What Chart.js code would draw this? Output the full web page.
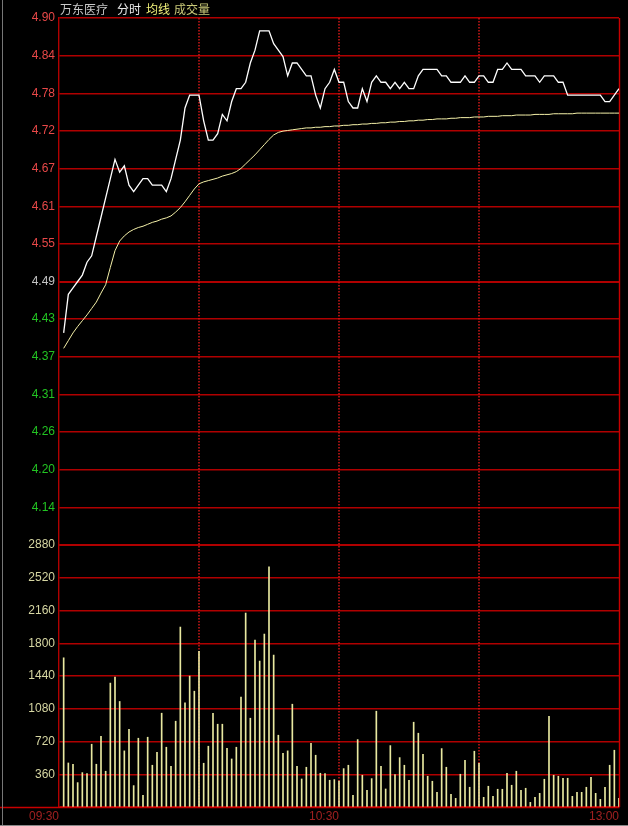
<!DOCTYPE html>
<html>
<head>
<meta charset="utf-8">
<title>万东医疗 分时</title>
<script src="https://cdn.jsdelivr.net/npm/chart.js@4.4.1/dist/chart.umd.min.js"></script>
<style>
    html, body { margin: 0; padding: 0; background: #000; }
    #wrap { position: relative; width: 628px; height: 826px; background: #000; overflow: hidden; }
    #wrap canvas { position: absolute; left: 0; top: 0; }
    #edge { position: absolute; left: 2px; top: 0; width: 1px; height: 826px; background: #777; }
    #foot { position: absolute; left: 0; top: 825px; width: 628px; height: 1px; background: #888; }
    .hdr { position: absolute; top: 3px; font: 12px/12px "Noto Sans CJK SC", sans-serif; white-space: nowrap; }
</style>
</head>
<body>
<div id="wrap">
    <canvas id="chart" width="628" height="826"></canvas>
    <div id="edge"></div>
    <div id="foot"></div>
    <span class="hdr" style="left:60px;color:#c8c8c8">万东医疗</span>
    <span class="hdr" style="left:117px;color:#ececec">分时</span>
    <span class="hdr" style="left:146px;color:#f2f27a">均线</span>
    <span class="hdr" style="left:174px;color:#c9c978">成交量</span>
</div>
<script>
// one entry per minute, 09:31 .. 11:30
const price = [
    4.41, 4.47, 4.48, 4.49, 4.50, 4.52, 4.53, 4.56, 4.59, 4.62,
    4.65, 4.68, 4.66, 4.67, 4.64, 4.63, 4.64, 4.65, 4.65, 4.64,
    4.64, 4.64, 4.63, 4.65, 4.68, 4.71, 4.76, 4.78, 4.78, 4.78,
    4.74, 4.71, 4.71, 4.72, 4.75, 4.74, 4.77, 4.79, 4.79, 4.80,
    4.83, 4.85, 4.88, 4.88, 4.88, 4.86, 4.85, 4.84, 4.81, 4.83,
    4.83, 4.82, 4.81, 4.81, 4.78, 4.76, 4.79, 4.80, 4.82, 4.80,
    4.80, 4.77, 4.76, 4.76, 4.79, 4.77, 4.80, 4.81, 4.80, 4.80,
    4.79, 4.80, 4.79, 4.80, 4.79, 4.79, 4.81, 4.82, 4.82, 4.82,
    4.82, 4.81, 4.81, 4.80, 4.80, 4.80, 4.81, 4.80, 4.80, 4.81,
    4.81, 4.80, 4.80, 4.82, 4.82, 4.83, 4.82, 4.82, 4.82, 4.81,
    4.81, 4.81, 4.80, 4.81, 4.81, 4.81, 4.80, 4.80, 4.78, 4.78,
    4.78, 4.78, 4.78, 4.78, 4.78, 4.78, 4.77, 4.77, 4.78, 4.79
]
const avgPrice = [
    4.386, 4.398, 4.410, 4.420, 4.429, 4.438, 4.448, 4.458, 4.472, 4.485,
    4.512, 4.538, 4.553, 4.561, 4.567, 4.571, 4.574, 4.576, 4.579, 4.582,
    4.584, 4.587, 4.589, 4.592, 4.598, 4.605, 4.614, 4.624, 4.634, 4.642,
    4.645, 4.647, 4.649, 4.651, 4.654, 4.656, 4.658, 4.661, 4.666, 4.673,
    4.680, 4.687, 4.695, 4.703, 4.711, 4.718, 4.722, 4.724, 4.725, 4.726,
    4.727, 4.728, 4.729, 4.729, 4.730, 4.730, 4.731, 4.731, 4.732, 4.732,
    4.733, 4.733, 4.734, 4.734, 4.735, 4.735, 4.736, 4.736, 4.737, 4.737,
    4.738, 4.738, 4.739, 4.739, 4.740, 4.740, 4.741, 4.741, 4.742, 4.742,
    4.743, 4.743, 4.743, 4.744, 4.744, 4.745, 4.745, 4.745, 4.746, 4.746,
    4.746, 4.747, 4.747, 4.747, 4.748, 4.748, 4.748, 4.749, 4.749, 4.749,
    4.749, 4.750, 4.750, 4.750, 4.750, 4.751, 4.751, 4.751, 4.751, 4.751,
    4.752, 4.752, 4.752, 4.752, 4.752, 4.752, 4.752, 4.752, 4.752, 4.752
]
const volume = [
    1640, 484, 470, 268, 378, 367, 690, 470, 778, 393,
    1362, 1428, 1160, 617, 855, 235, 756, 128, 767, 459,
    602, 1031, 657, 448, 943, 1978, 1145, 1439, 1273, 1710,
    481, 668, 1031, 910, 910, 646, 528, 657, 1207, 2132,
    976, 1835, 1604, 1901, 2639, 1670, 789, 591, 617, 1130,
    448, 308, 437, 701, 569, 371, 367, 294, 301, 286,
    422, 459, 128, 741, 349, 184, 312, 1053, 448, 198,
    675, 356, 543, 459, 294, 932, 811, 580, 338, 283,
    161, 642, 437, 139, 95, 360, 514, 217, 613, 481,
    106, 228, 117, 195, 195, 371, 239, 393, 184, 206,
    51, 106, 150, 305, 998, 349, 338, 316, 316, 117,
    161, 161, 217, 327, 150, 84, 217, 459, 624, 95
]
const prevClose = 4.49
const priceTickLabels = ['4.90', '4.84', '4.78', '4.72', '4.67', '4.61', '4.55', '4.49',
                         '4.43', '4.37', '4.31', '4.26', '4.20', '4.14']
const volTickLabels = ['2880', '2520', '2160', '1800', '1440', '1080', '720', '360']
const timeLabels = ['09:30', '10:30', '13:00']
const timeTicks = [0, 60, 120]
const dottedTimes = [30, 60, 90]

const gridRed = '#b00000'
const upRed = '#e84848'
const downGreen = '#22c422'
const flatGrey = '#c4c4c4'

// price axis spans prevClose +- 0.41, 14 equal steps, bottom step left unlabelled
const priceTop = Number(priceTickLabels[0])
const priceBottom = 2 * prevClose - priceTop
const priceStep = (priceTop - priceBottom) / priceTickLabels.length
const volTop = Number(volTickLabels[0])

const pts = arr => arr.map((v, i) => ({x: i + 1, y: v}))

const frameLines = {
    id: 'frameLines',
    beforeDatasetsDraw(chart){
        const {ctx, chartArea, scales} = chart
        const x = scales.x
        ctx.save()
        ctx.strokeStyle = '#d01818'
        ctx.lineWidth = 1.5
        ctx.setLineDash([1.5, 1.5])
        dottedTimes.forEach(t => {
            const px = Math.round(x.getPixelForValue(t))
            ctx.beginPath()
            ctx.moveTo(px, chartArea.top)
            ctx.lineTo(px, chartArea.bottom)
            ctx.stroke()
        })
        ctx.setLineDash([])
        ctx.strokeStyle = '#c80000'
        ctx.lineWidth = 1.4
        const right = Math.round(x.getPixelForValue(timeTicks[timeTicks.length - 1])) + 0.5
        ctx.beginPath()
        ctx.moveTo(right, chartArea.top)
        ctx.lineTo(right, chartArea.bottom)
        ctx.stroke()
        const base = Math.round(scales.vol.getPixelForValue(0)) + 0.5
        ctx.beginPath()
        ctx.moveTo(0, base)
        ctx.lineTo(right, base)
        ctx.stroke()
        ctx.restore()
    }
}

const ctx = document.getElementById('chart')
const chart = new Chart(ctx, {
    data: {
        datasets: [
            {
                type: 'bar',
                label: '成交量',
                data: pts(volume),
                xAxisID: 'x',
                yAxisID: 'vol',
                backgroundColor: '#e8e8a0',
                borderWidth: 0,
                barThickness: 1,
                order: 3
            },
            {
                type: 'line',
                label: '均线',
                data: pts(avgPrice),
                xAxisID: 'x',
                yAxisID: 'price',
                borderColor: '#f4f0a8',
                borderWidth: 1,
                pointRadius: 0,
                tension: 0,
                order: 2
            },
            {
                type: 'line',
                label: '分时',
                data: pts(price),
                xAxisID: 'x',
                yAxisID: 'price',
                borderColor: '#ffffff',
                borderWidth: 1.3,
                pointRadius: 0,
                tension: 0,
                order: 1
            }
        ]
    },
    options: {
        responsive: false,
        animation: false,
        events: [],
        layout: {padding: {top: 18, right: 9, bottom: 0, left: 0}},
        plugins: {legend: {display: false}, tooltip: {enabled: false}},
        scales: {
            x: {
                type: 'linear',
                offset: false,
                min: timeTicks[0],
                max: timeTicks[timeTicks.length - 1],
                afterBuildTicks: scale => { scale.ticks = timeTicks.map(v => ({value: v})) },
                afterFit: scale => { scale.height = 19 },
                grid: {display: false, drawTicks: false, offset: false},
                border: {display: false},
                ticks: {
                    autoSkip: false,
                    maxRotation: 0,
                    align: 'end',
                    padding: 2,
                    color: '#a02020',
                    font: {family: 'Liberation Sans', size: 12},
                    callback: (v, i) => timeLabels[i]
                }
            },
            vol: {
                type: 'linear',
                position: 'left',
                stack: 'panes',
                stackWeight: 262,
                weight: 0,
                min: 0,
                max: volTop,
                afterBuildTicks: scale => {
                    scale.ticks = [0, ...volTickLabels.map(Number).reverse()].map(v => ({value: v}))
                },
                afterFit: scale => { scale.width = 59 },
                grid: {color: gridRed, lineWidth: c => c.tick.value === volTop ? 2 : 1.4, drawTicks: false},
                border: {color: gridRed, width: 1.4},
                ticks: {
                    autoSkip: false,
                    padding: 4,
                    color: '#d6d6a2',
                    font: {family: 'Liberation Sans', size: 12},
                    callback: v => v === 0 ? '' : String(v)
                }
            },
            price: {
                type: 'linear',
                position: 'left',
                stack: 'panes',
                stackWeight: 527,
                weight: 1,
                min: priceBottom,
                max: priceTop,
                afterBuildTicks: scale => {
                    const ticks = [{value: priceBottom, label: ''}]
                    priceTickLabels.slice().reverse().forEach((lab, k) => {
                        ticks.push({value: priceBottom + (k + 1) * priceStep, label: lab})
                    })
                    scale.ticks = ticks
                },
                afterFit: scale => { scale.width = 59 },
                grid: {
                    color: gridRed,
                    lineWidth: c => (c.index === 0 || Math.abs(c.tick.value - prevClose) < 1e-6) ? 2 : 1.4,
                    drawTicks: false
                },
                border: {color: gridRed, width: 1.4},
                ticks: {
                    autoSkip: false,
                    padding: 4,
                    font: {family: 'Liberation Sans', size: 12},
                    color: c => {
                        const d = c.tick.value - prevClose
                        if (Math.abs(d) < 1e-6) return flatGrey
                        return d > 0 ? upRed : downGreen
                    },
                    callback: (v, i, ticks) => ticks[i].label
                }
            }
        }
    },
    plugins: [frameLines]
})
</script>
</body>
</html>
